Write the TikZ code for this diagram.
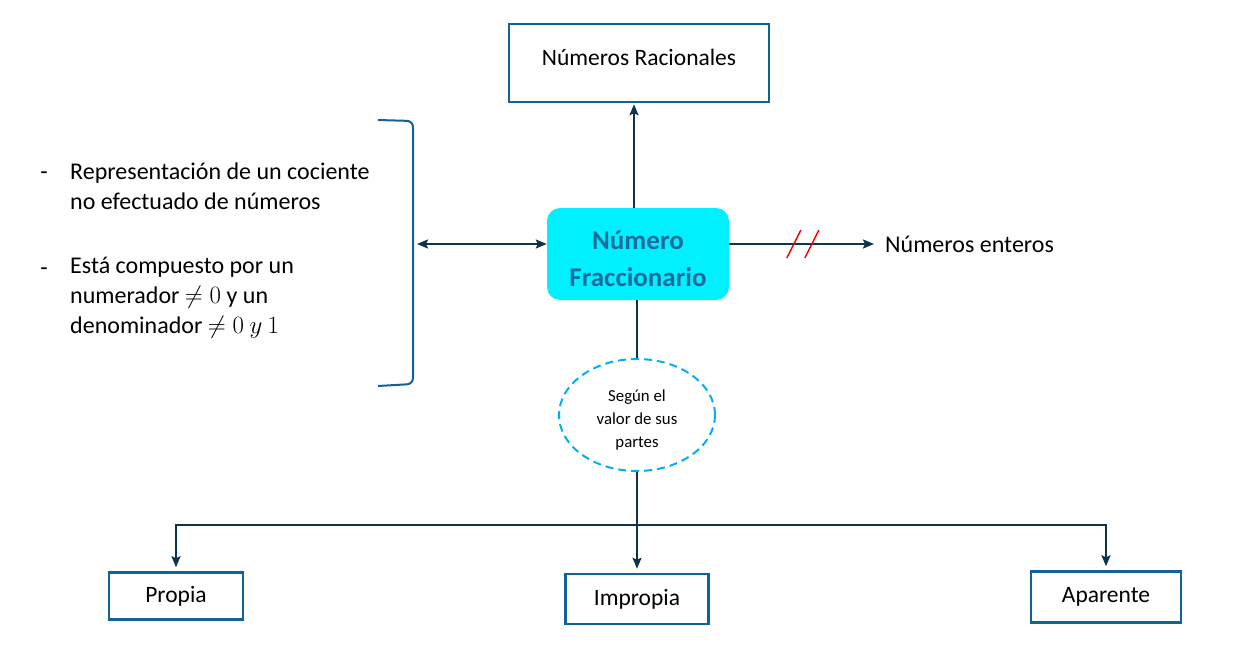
\documentclass[tikz,border=0pt]{standalone}
\usepackage{fontspec}
\setmainfont{Carlito}
\usetikzlibrary{positioning,shapes.geometric,arrows.meta,calc}
\definecolor{borde}{RGB}{16,99,150}
\definecolor{azuloscuro}{RGB}{12,52,80}
\definecolor{cian}{RGB}{0,240,255}
\definecolor{textocian}{RGB}{24,108,156}
\definecolor{celeste}{RGB}{0,176,240}

\begin{document}
\begin{tikzpicture}[x=1pt, y=-1pt,
             caja/.style = {draw=borde, line width=2.5pt, rectangle, minimum width=134pt, minimum height=47pt, font=\fontsize{23.5}{28}\selectfont},
             central/.style = {fill=cian, rounded corners=13pt, minimum width=182pt, minimum height=92pt, align=center, text=textocian, font=\fontsize{27}{37}\selectfont\bfseries},
             criterio/.style = {draw=celeste, line width=2pt, dash pattern=on 8pt off 5pt, ellipse, minimum width=156pt, minimum height=112pt, inner sep=0pt, align=center, font=\fontsize{16.8}{23}\selectfont},
             texto/.style = {font=\fontsize{24}{30}\selectfont, align=left, inner sep=0pt},
             conector/.style = {draw=azuloscuro, line width=2pt, -{Stealth[length=11pt,width=9pt,inset=2pt]}}]
            \useasboundingbox (0,0) rectangle (1240,653);

            % Nodos principales
            \node[caja, minimum width=260pt, minimum height=78pt, text depth=12pt] (racionales) at (639,63) {Números Racionales};
            \node[central] (fraccionario) at (638,254) {\rule{0pt}{29pt}Número\\Fraccionario};
            \node[texto, anchor=west] (enteros) at (885,244) {Números enteros};
            \node[criterio] (partes) at (637,415) {\rule{0pt}{21pt}Según el\\valor de sus\\partes};

            % Clasificacion
            \node[caja] (propia) at (176,596) {Propia};
            \node[caja, minimum width=143pt, minimum height=50pt] (impropia) at (637,599) {Impropia};
            \node[caja, minimum width=150pt, minimum height=51pt] (aparente) at (1106,597) {Aparente};

            % Definicion a la izquierda
            \node[texto] (guion1) at (44,173) {\strut-};
            \node[texto, anchor=west] (def1) at (70,186) {Representación de un cociente\\no efectuado de números};
            \node[texto] (guion2) at (44,269) {\strut-};
            \node[texto, anchor=west] (def2) at (70,298) {Está compuesto por un\\numerador $\neq 0$ y un\\denominador $\neq 0\ y\ 1$};
            \draw[borde, line width=2pt, rounded corners=6pt] (378,120) -- (413,121) -- (413,384) -- (378,386);
            \coordinate (llave) at (413,244);

            % Flechas
            \draw[conector, shorten >=1pt] (fraccionario.north -| 634,0) -- (racionales.south -| 634,0);
            \draw[conector, {Stealth[length=11pt,width=9pt,inset=2pt]}-{Stealth[length=11pt,width=9pt,inset=2pt]}, shorten <=4pt] (llave) -- (llave -| fraccionario.west);
            \draw[conector, shorten >=11pt] (fraccionario.east |- enteros) -- coordinate[pos=0.46] (corte) (enteros.west);
            \draw[red, line width=1.5pt] ($(corte)+(-14,14)$) -- ++(14,-28);
            \draw[red, line width=1.5pt] ($(corte)+(4,14)$) -- ++(14,-28);

            \draw[azuloscuro, line width=2pt] (partes.north |- fraccionario.south) -- (partes.north);
            \coordinate (rama) at (partes.south |- 0,525);
            \draw[conector, shorten >=4pt] (partes.south) -- (impropia.north);
            \draw[conector, shorten >=4pt] (rama) -| (propia.north);
            \draw[conector, shorten >=4pt] (rama) -| (aparente.north);
        \end{tikzpicture}
\end{document}
